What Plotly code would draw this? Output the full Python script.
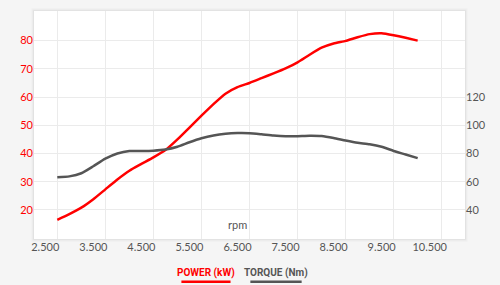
import plotly.graph_objects as go

rpm = [2750, 3000, 3250, 3500, 3750, 4000, 4250, 4500, 4750, 5000, 5250, 5500,
       5750, 6000, 6250, 6500, 6750, 7000, 7250, 7500, 7750, 8000, 8250, 8500,
       8750, 9000, 9250, 9500, 9750, 10000, 10250]
power_kw = [16.5, 18.5, 20.8, 23.8, 27.3, 30.8, 33.9, 36.3, 38.6, 41.2, 45.0, 49.2,
            53.4, 57.5, 61.2, 63.5, 65.0, 66.7, 68.4, 70.2, 72.3, 75.0, 77.5, 79.0,
            79.9, 81.2, 82.3, 82.6, 81.9, 81.0, 80.0]
torque_nm = [63.2, 63.8, 66.0, 71.0, 76.3, 80.0, 81.8, 81.8, 82.0, 82.8, 84.8, 88.0,
             90.8, 92.8, 94.0, 94.5, 94.4, 93.6, 92.7, 92.2, 92.3, 92.6, 92.4, 91.0,
             89.2, 87.6, 86.6, 84.8, 81.8, 79.3, 76.7]

x_ticks = [2500, 3500, 4500, 5500, 6500, 7500, 8500, 9500, 10500]
x_ticktext = ["2.500", "3.500", "4.500", "5.500", "6.500", "7.500", "8.500", "9.500", "10.500"]
x_grid = [2750, 3750, 4750, 5750, 6750, 7750, 8750, 9750, 10750]
power_ticks = [20, 30, 40, 50, 60, 70, 80]
torque_ticks = [40, 60, 80, 100, 120]

RED = "#ff0000"
GRAY = "#555555"
FONT = "Lato"
LEG_FONT = "Liberation Sans Narrow, Roboto"

fig = go.Figure()
fig.add_trace(go.Scatter(x=rpm, y=power_kw, mode="lines", name="POWER (kW)",
                         line=dict(color=RED, width=2.5, shape="spline", smoothing=0.5),
                         yaxis="y"))
fig.add_trace(go.Scatter(x=rpm, y=torque_nm, mode="lines", name="TORQUE (Nm)",
                         line=dict(color=GRAY, width=2.5, shape="spline", smoothing=0.5),
                         yaxis="y2"))

shapes = []
# soft shadow of the white card
for i, a in enumerate([0.035, 0.025, 0.015, 0.008]):
    d = (i + 1) * 0.0035
    shapes.append(dict(type="rect", xref="paper", yref="paper", layer="below",
                       x0=-d * 0.53, x1=1 + d * 0.53, y0=-d, y1=1 + d,
                       line=dict(width=0), fillcolor=f"rgba(0,0,0,{a})"))
shapes.append(dict(type="rect", xref="paper", yref="paper", layer="below",
                   x0=0, x1=1, y0=0, y1=1, line=dict(width=0), fillcolor="white"))
# legend underlines
shapes.append(dict(type="line", xref="paper", yref="paper", x0=0.342, x1=0.456,
                   y0=-0.187, y1=-0.187, line=dict(color=RED, width=2.5)))
shapes.append(dict(type="line", xref="paper", yref="paper", x0=0.502, x1=0.621,
                   y0=-0.187, y1=-0.187, line=dict(color=GRAY, width=2.5)))

annotations = [
    dict(text="rpm", xref="x", yref="paper", x=6500, y=0.062, showarrow=False,
         xanchor="center", yanchor="middle",
         font=dict(family=FONT, size=11, color=GRAY)),
    dict(text="<b>POWER (kW)</b>", xref="paper", yref="paper", x=0.399, y=-0.149,
         showarrow=False, xanchor="center", yanchor="middle",
         font=dict(family=LEG_FONT, size=10, color=RED)),
    dict(text="<b>TORQUE (Nm)</b>", xref="paper", yref="paper", x=0.561, y=-0.149,
         showarrow=False, xanchor="center", yanchor="middle",
         font=dict(family=LEG_FONT, size=10, color=GRAY)),
]

fig.update_layout(
    width=500, height=285,
    margin=dict(l=34, r=35, t=11, b=46),
    paper_bgcolor="#f5f5f5",
    plot_bgcolor="rgba(0,0,0,0)",
    showlegend=False,
    shapes=shapes,
    annotations=annotations,
    xaxis=dict(range=[2265, 11235], tickvals=x_ticks, ticktext=x_ticktext,
               showgrid=False, zeroline=False, showline=False, ticks="",
               tickfont=dict(family=FONT, size=11, color=GRAY),
               minor=dict(tickvals=x_grid, showgrid=True, gridcolor="#ebebeb",
                          gridwidth=1, ticks="")),
    yaxis=dict(range=[9.7, 90.5], tickvals=power_ticks, showgrid=True,
               gridcolor="#ebebeb", gridwidth=1, zeroline=False, showline=False,
               ticks="", tickfont=dict(family=FONT, size=11, color=RED)),
    yaxis2=dict(range=[19.4, 181], tickvals=torque_ticks, overlaying="y", side="right",
                showgrid=False, zeroline=False, showline=False, ticks="",
                tickfont=dict(family=FONT, size=11, color=GRAY)),
)

fig.write_html("out.html")
